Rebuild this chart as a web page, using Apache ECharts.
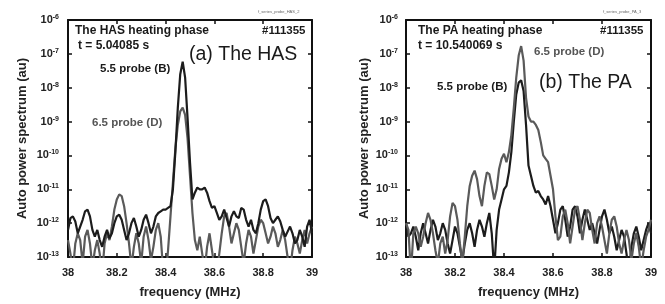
<!DOCTYPE html>
<html><head><meta charset="utf-8">
<script src="https://cdn.jsdelivr.net/npm/echarts@6/dist/echarts.min.js"></script>
<style>html,body{margin:0;padding:0;background:#fff}#c{width:665px;height:304px}</style>
</head><body><div id="c"></div>
<script>
// Frequency (MHz)
const freq = [38.00,38.01,38.02,38.03,38.04,38.05,38.06,38.07,38.08,38.09,
38.10,38.11,38.12,38.13,38.14,38.15,38.16,38.17,38.18,38.19,
38.20,38.21,38.22,38.23,38.24,38.25,38.26,38.27,38.28,38.29,
38.30,38.31,38.32,38.33,38.34,38.35,38.36,38.37,38.38,38.39,
38.40,38.41,38.42,38.43,38.44,38.45,38.46,38.47,38.48,38.49,
38.50,38.51,38.52,38.53,38.54,38.55,38.56,38.57,38.58,38.59,
38.60,38.61,38.62,38.63,38.64,38.65,38.66,38.67,38.68,38.69,
38.70,38.71,38.72,38.73,38.74,38.75,38.76,38.77,38.78,38.79,
38.80,38.81,38.82,38.83,38.84,38.85,38.86,38.87,38.88,38.89,
38.90,38.91,38.92,38.93,38.94,38.95,38.96,38.97,38.98,38.99,39.00];

// log10 of auto power spectrum (au)
const hasProbeB = [-12.2,-11.85,-11.8,-11.95,-12.3,-12.1,-11.9,-11.65,-11.6,-11.8,
-12.2,-12.4,-12.2,-12.5,-12.7,-12.4,-12.2,-12.45,-12.3,-12.0,
-11.8,-11.75,-11.9,-12.2,-12.5,-12.3,-12.0,-11.85,-12.1,-12.4,
-12.2,-11.9,-11.75,-12.0,-12.3,-12.1,-11.8,-11.7,-11.65,-11.6,
-11.6,-11.55,-11.5,-11.0,-9.9,-8.6,-7.6,-7.23,-7.7,-8.9,
-10.2,-11.3,-11.1,-10.95,-11.0,-11.0,-10.95,-11.1,-11.35,-11.55,
-11.5,-11.7,-11.9,-11.8,-11.6,-11.85,-12.1,-11.8,-11.65,-11.8,
-11.85,-11.55,-11.6,-11.9,-12.1,-11.9,-12.2,-12.3,-12.0,-11.6,
-11.35,-11.3,-11.5,-11.85,-12.0,-11.9,-11.8,-11.95,-12.2,-12.4,
-12.25,-12.1,-12.3,-12.6,-12.5,-12.2,-12.4,-12.7,-12.1,-11.9,-12.3];
const hasProbeD = [-12.5,-12.9,-13.4,-12.6,-12.3,-12.5,-13.2,-12.4,-12.2,-12.6,
-13.3,-12.8,-12.5,-12.9,-13.5,-12.6,-12.3,-12.5,-12.1,-11.6,
-11.3,-11.15,-11.2,-11.5,-12.0,-12.6,-13.3,-12.7,-12.3,-12.6,
-13.2,-12.4,-12.1,-12.5,-13.1,-12.7,-12.2,-12.0,-12.4,-13.4,
-13.6,-12.8,-11.8,-10.8,-9.8,-9.1,-8.7,-8.59,-8.8,-9.5,
-10.6,-11.7,-12.5,-12.8,-12.4,-12.9,-13.4,-12.7,-12.3,-12.8,
-13.3,-13.5,-12.9,-12.3,-11.8,-11.7,-12.1,-12.6,-12.3,-12.0,
-12.2,-12.7,-13.2,-12.6,-12.2,-12.4,-12.9,-12.5,-12.1,-11.9,
-12.0,-12.3,-12.6,-12.4,-12.1,-12.3,-12.7,-12.5,-12.2,-12.5,
-13.0,-13.4,-12.8,-12.4,-12.6,-12.9,-12.5,-12.2,-12.6,-12.3,-12.1];
const paProbeD = [-12.0,-12.2,-13.5,-12.3,-12.1,-12.3,-12.7,-12.4,-12.0,-11.7,
-11.9,-12.3,-12.8,-13.2,-12.6,-12.4,-12.9,-12.5,-11.8,-11.4,
-11.5,-11.9,-12.6,-13.2,-12.4,-11.5,-10.9,-10.6,-10.45,-10.7,
-11.2,-11.5,-10.9,-10.5,-10.55,-10.9,-11.3,-11.0,-10.4,-10.1,
-9.95,-10.2,-9.9,-9.4,-8.6,-7.7,-7.05,-6.77,-7.2,-8.3,
-8.85,-9.0,-9.0,-9.1,-9.25,-9.6,-10.0,-10.1,-10.2,-10.6,
-11.0,-11.8,-12.5,-12.4,-11.8,-11.6,-12.0,-12.6,-12.1,-11.6,
-11.5,-11.9,-12.5,-12.0,-11.6,-11.7,-12.2,-12.6,-12.0,-11.8,
-12.1,-12.5,-12.9,-12.3,-11.9,-11.8,-12.1,-12.6,-12.9,-12.5,
-12.2,-12.5,-13.1,-12.6,-12.3,-12.7,-13.3,-12.8,-12.4,-12.2,-11.9];
const paProbeB = [-12.0,-12.4,-12.3,-12.1,-12.4,-12.8,-12.3,-12.0,-12.3,-12.6,
-12.2,-11.9,-12.1,-12.5,-12.3,-12.0,-12.2,-12.6,-12.9,-12.5,
-12.1,-12.3,-12.7,-13.1,-12.6,-12.2,-12.0,-12.3,-12.7,-12.2,
-11.9,-12.1,-12.4,-12.0,-11.7,-12.3,-13.4,-12.2,-11.6,-11.3,
-11.0,-10.9,-10.5,-9.9,-9.0,-8.2,-7.85,-7.78,-8.1,-9.1,
-10.3,-10.6,-10.9,-11.1,-11.05,-11.2,-11.3,-11.45,-11.2,-11.5,
-11.9,-12.3,-12.0,-11.6,-11.5,-11.9,-12.4,-12.1,-11.6,-11.5,
-11.8,-12.3,-11.9,-11.6,-11.9,-12.2,-12.0,-12.3,-12.6,-12.2,
-11.8,-11.6,-11.9,-12.3,-12.1,-12.4,-12.8,-12.5,-12.2,-12.4,
-12.9,-13.5,-12.7,-12.3,-12.1,-12.4,-12.8,-12.5,-12.2,-12.0,-12.3];

const xTicks = [38, 38.2, 38.4, 38.6, 38.8, 39];
const yExponents = [-13, -12, -11, -10, -9, -8, -7, -6];

const FONT = "'Liberation Sans', Arial, sans-serif";
const BLACK = '#1c1c1c', GRAY = '#5a5a5a';

function pairs(ex) { return freq.map((f, i) => [f, Math.pow(10, ex[i])]); }

const grids = [
  {left: 68, top: 20, width: 244, height: 243},
  {left: 406, top: 20, width: 245, height: 243}
];

const xAxes = [], yAxes = [];
grids.forEach((g, gi) => {
  const base = {
    gridIndex: gi, type: 'value', min: 38, max: 39, interval: 0.2,
    axisLine: {show: true, onZero: false, lineStyle: {color: '#111', width: 2}},
    axisTick: {show: true, inside: true, length: 4, lineStyle: {color: '#111', width: 1.5}},
    splitLine: {show: false}
  };
  xAxes.push(Object.assign({}, base, {
    position: 'bottom',
    name: 'frequency (MHz)', nameLocation: 'middle', nameGap: 29,
    nameTextStyle: {fontFamily: FONT, fontWeight: 'bold', fontSize: 13, color: '#222'},
    axisLabel: {fontFamily: FONT, fontWeight: 'bold', fontSize: 11, color: '#222', margin: 10,
      formatter: v => xTicks.some(t => Math.abs(t - v) < 1e-6) ? String(Math.round(v * 10) / 10) : ''}
  }));
  xAxes.push(Object.assign({}, base, {position: 'top', axisLabel: {show: false}}));
  const ybase = {
    gridIndex: gi, type: 'log', logBase: 10, min: 1e-13, max: 1e-6, interval: 1,
    axisLine: {show: true, onZero: false, lineStyle: {color: '#111', width: 2}},
    axisTick: {show: true, inside: true, length: 4, lineStyle: {color: '#111', width: 1.5}},
    splitLine: {show: false}
  };
  yAxes.push(Object.assign({}, ybase, {
    position: 'left',
    name: 'Auto power spectrum (au)', nameLocation: 'middle', nameGap: gi === 0 ? 39 : 35,
    nameTextStyle: {fontFamily: FONT, fontWeight: 'bold', fontSize: 13, color: '#222'},
    axisLabel: {margin: gi === 0 ? 9 : 8,
      formatter: v => { const e = Math.round(Math.log10(v)); return '{b|10}{s|' + e + '}'; },
      rich: {
        b: {fontFamily: FONT, fontWeight: 'bold', fontSize: 11, color: '#222'},
        s: {fontFamily: FONT, fontWeight: 'bold', fontSize: 7, color: '#222', verticalAlign: 'top', padding: [0, 0, 6, 0]}
      }}
  }));
  yAxes.push(Object.assign({}, ybase, {position: 'right', axisLabel: {show: false}}));
});

function line(name, xi, yi, ex, color) {
  return {name, type: 'line', xAxisIndex: xi, yAxisIndex: yi, data: pairs(ex),
    showSymbol: false, symbol: 'none', clip: true,
    lineStyle: {color, width: 2.2}, itemStyle: {color}, animation: false};
}

const txt = (x, y, s, o) => ({type: 'text', left: x, top: y,
  style: Object.assign({text: s, fontFamily: FONT, fontWeight: 'bold', fontSize: 12, fill: '#1a1a1a'}, o || {})});

const chart = echarts.init(document.getElementById('c'), null, {renderer: 'canvas'});
chart.setOption({
  animation: false,
  backgroundColor: '#fff',
  grid: grids,
  xAxis: xAxes,
  yAxis: yAxes,
  series: [
    line('6.5 probe (D) HAS', 0, 0, hasProbeD, GRAY),
    line('5.5 probe (B) HAS', 0, 0, hasProbeB, BLACK),
    line('5.5 probe (B) PA', 2, 2, paProbeB, BLACK),
    line('6.5 probe (D) PA', 2, 2, paProbeD, GRAY)
  ],
  graphic: [
    txt(258, 10, 'f_series_probe_HAS_2', {fontSize: 4, fontWeight: 'normal', fill: '#666'}),
    txt(75, 25, 'The HAS heating phase'),
    txt(78, 40, 't = 5.04085 s'),
    txt(262, 25, '#111355', {fontSize: 11.5}),
    txt(189, 45, '(a) The HAS', {fontSize: 19.5, fontWeight: 'normal'}),
    txt(100, 63, '5.5 probe (B)', {fontSize: 11.5}),
    txt(92, 117, '6.5 probe (D)', {fontSize: 11.5, fill: '#555'}),
    txt(603, 10, 'f_series_probe_PA_3', {fontSize: 4, fontWeight: 'normal', fill: '#666'}),
    txt(418, 25, 'The PA heating phase'),
    txt(418, 40, 't = 10.540069 s'),
    txt(600, 25, '#111355', {fontSize: 11.5}),
    txt(534, 46, '6.5 probe (D)', {fontSize: 11.5, fill: '#555'}),
    txt(437, 81, '5.5 probe (B)', {fontSize: 11.5}),
    txt(539, 73, '(b) The PA', {fontSize: 19.5, fontWeight: 'normal'})
  ]
});
</script></body></html>
